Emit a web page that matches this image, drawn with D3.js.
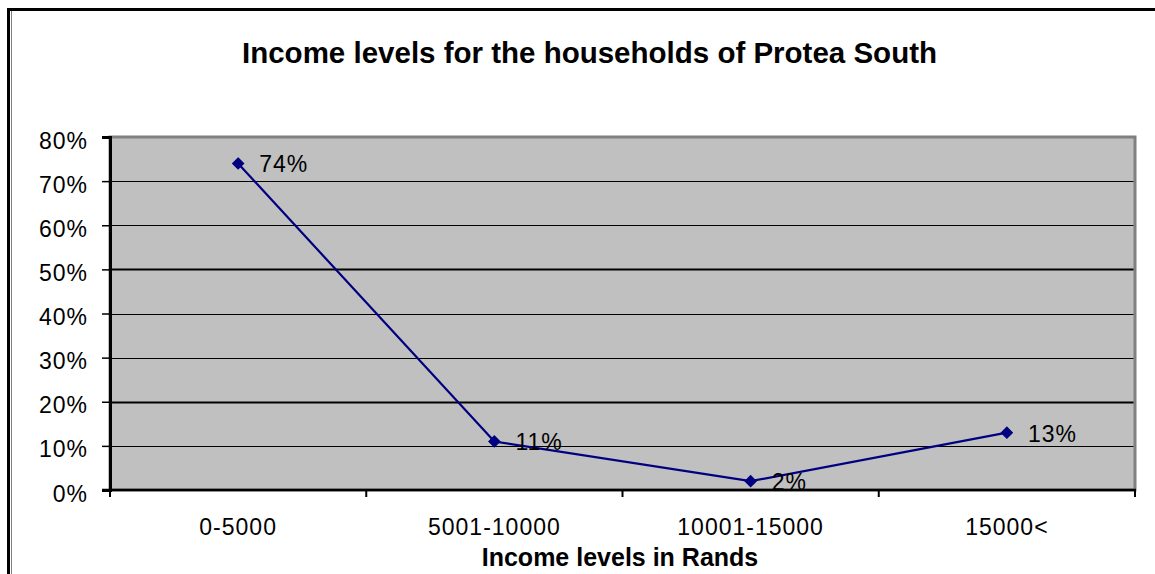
<!DOCTYPE html>
<html>
<head>
<meta charset="utf-8">
<script src="https://cdn.jsdelivr.net/npm/d3@7"></script>
<style>
  html, body { margin: 0; padding: 0; background: #fff; overflow: hidden; }
  svg { display: block; }
  text { font-family: "Liberation Sans", Arial, sans-serif; fill: #000; }
</style>
</head>
<body>
<svg id="chart" width="1155" height="574"></svg>
<script>
const titleText = "Income levels for the households of Protea South";
const xAxisTitle = "Income levels in Rands";
const categories = ["0-5000", "5001-10000", "10001-15000", "15000<"];
const values = [74, 11, 2, 13];
const yTicks = [0, 10, 20, 30, 40, 50, 60, 70, 80];

const W = 1155, H = 574;
const plot = { left: 110, right: 1135, top: 137, bottom: 490 };
const fs = "23px", ls = "1px";

const svg = d3.select("#chart");

// outer frame (cut off at the right and bottom)
svg.append("line").attr("x1", 8.5).attr("x2", W + 5).attr("y1", 9.5).attr("y2", 9.5)
  .attr("stroke", "#000").attr("stroke-width", 3);
svg.append("line").attr("x1", 8.5).attr("x2", 8.5).attr("y1", 8).attr("y2", H + 5)
  .attr("stroke", "#000").attr("stroke-width", 3);
svg.append("line").attr("x1", 11.5).attr("x2", 11.5).attr("y1", 11).attr("y2", H + 5)
  .attr("stroke", "#808080").attr("stroke-width", 1);

// title
svg.append("text")
  .attr("x", 589.5).attr("y", 63)
  .attr("text-anchor", "middle")
  .style("font-size", "29.5px").style("font-weight", "bold")
  .text(titleText);

const x = d3.scaleBand().domain(categories).range([plot.left, plot.right]);
const y = d3.scaleLinear().domain([0, 80]).range([plot.bottom, plot.top]);

// plot area
svg.append("rect")
  .attr("x", plot.left).attr("y", plot.top)
  .attr("width", plot.right - plot.left).attr("height", plot.bottom - plot.top)
  .attr("fill", "#C0C0C0").attr("stroke", "#808080").attr("stroke-width", 3);

// gridlines
svg.append("g").selectAll("line")
  .data(yTicks.filter(d => d > 0 && d < 80))
  .join("line")
  .attr("x1", plot.left).attr("x2", plot.right - 1.5)
  .attr("y1", d => Math.round(y(d)) + 0.5).attr("y2", d => Math.round(y(d)) + 0.5)
  .attr("stroke", "#000")
  .attr("stroke-width", d => (d === 20 || d === 50) ? 2 : 1);

// y axis
const yAxis = d3.axisLeft(y).tickValues(yTicks).tickFormat(d => d + "%")
  .tickSize(8).tickPadding(14);
const gy = svg.append("g").attr("transform", `translate(${plot.left},0)`).call(yAxis);
gy.select(".domain").attr("stroke", "#000").attr("stroke-width", 3);
gy.selectAll(".tick line").attr("stroke", "#000").attr("stroke-width", 1.5);
gy.selectAll(".tick text")
  .attr("dy", "0.48em")
  .style("font-size", fs).style("letter-spacing", ls)
  .style("font-family", "'Liberation Sans', Arial, sans-serif").attr("fill", "#000");

// x axis
const gx = svg.append("g");
gx.append("line").attr("x1", plot.left - 8).attr("x2", plot.right + 1)
  .attr("y1", plot.bottom).attr("y2", plot.bottom)
  .attr("stroke", "#000").attr("stroke-width", 2.5);
const xTickPos = categories.map(c => x(c)).concat([x.range()[1]]);
gx.selectAll("line.xt").data(xTickPos).join("line").attr("class", "xt")
  .attr("x1", d => d).attr("x2", d => d)
  .attr("y1", plot.bottom).attr("y2", plot.bottom + 7)
  .attr("stroke", "#000").attr("stroke-width", 2);
gx.selectAll("text.xl").data(categories).join("text").attr("class", "xl")
  .attr("x", d => x(d) + x.bandwidth() / 2).attr("y", 535)
  .attr("text-anchor", "middle")
  .style("font-size", fs).style("letter-spacing", ls)
  .text(d => d);

// x axis title
svg.append("text")
  .attr("x", 620).attr("y", 566)
  .attr("text-anchor", "middle")
  .style("font-size", "25px").style("font-weight", "bold")
  .text(xAxisTitle);

// series line
const pts = categories.map((c, i) => ({ c, v: values[i] }));
const line = d3.line().x(d => x(d.c) + x.bandwidth() / 2).y(d => y(d.v));
svg.append("path").datum(pts)
  .attr("d", line).attr("fill", "none")
  .attr("stroke", "#000080").attr("stroke-width", 2.2);

// markers
svg.append("g").selectAll("path").data(pts).join("path")
  .attr("transform", d => `translate(${x(d.c) + x.bandwidth() / 2},${y(d.v)})`)
  .attr("d", "M0,-5.5L5.5,0L0,5.5L-5.5,0Z")
  .attr("fill", "#000080").attr("stroke", "#000080").attr("stroke-width", 1.2);

// data labels
svg.append("g").selectAll("text").data(pts).join("text")
  .attr("x", d => x(d.c) + x.bandwidth() / 2 + 21)
  .attr("y", d => y(d.v) + 9)
  .style("font-size", fs).style("letter-spacing", ls)
  .text(d => d.v + "%");
</script>
</body>
</html>
